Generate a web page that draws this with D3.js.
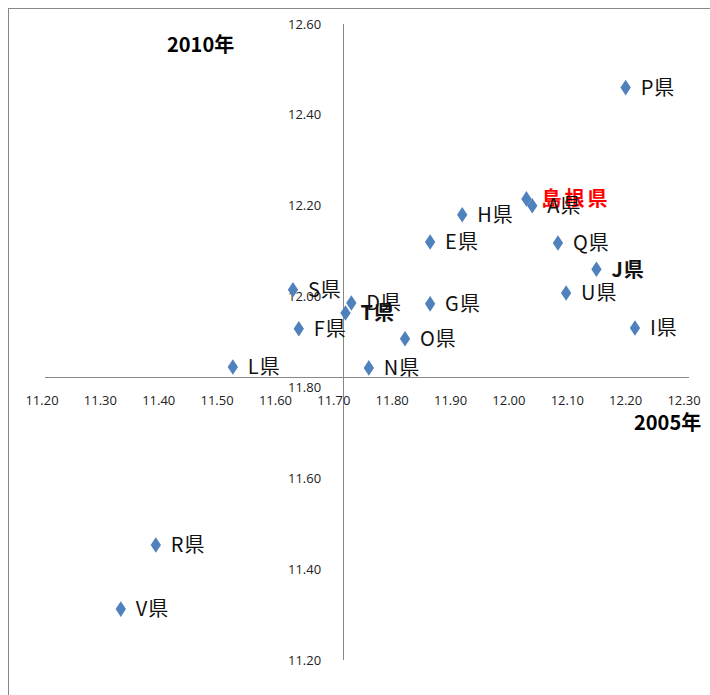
<!DOCTYPE html>
<html>
<head>
<meta charset="utf-8">
<script src="https://cdn.jsdelivr.net/npm/d3@7"></script>
<style>
  body { margin: 0; background: #fff; }
  .tick-label { font-family: "Liberation Sans Narrow", "Open Sans", sans-serif; font-size: 13px; fill: #222; }
  .pt-label { font-family: "Noto Sans CJK JP", sans-serif; font-size: 20px; fill: #111; }
  .axis-title { font-family: "Noto Sans CJK JP", sans-serif; font-size: 20px; font-weight: bold; fill: #000; }
</style>
</head>
<body>
<svg class="scatter"></svg>
<script>

// Prefecture names (labels of the points).
var names = ["P県", "島根県", "A県", "H県", "E県", "G県", "Q県", "J県", "U県", "I県",
             "S県", "D県", "T県", "F県", "O県", "N県", "L県", "R県", "V県"];

// 2005 values (x) and 2010 values (y).
var x2005 = [12.20, 12.03, 12.04, 11.92, 11.865, 11.865, 12.084, 12.15, 12.098, 12.216,
             11.63, 11.73, 11.72, 11.64, 11.822, 11.76, 11.527, 11.395, 11.335];
var y2010 = [12.46, 12.215, 12.20, 12.18, 12.12, 11.984, 12.118, 12.06, 12.008, 11.931,
             12.015, 11.986, 11.964, 11.929, 11.907, 11.843, 11.845, 11.453, 11.312];

// Labels drawn in bold.
var boldNames = ["J県", "T県"];

// Where the axes cross each other.
var crossX = 11.716,
    crossY = 11.823;

var xTicks = [11.2, 11.3, 11.4, 11.5, 11.6, 11.7, 11.8, 11.9, 12.0, 12.1, 12.2, 12.3];
var yTicks = [11.2, 11.4, 11.6, 11.8, 12.0, 12.2, 12.4, 12.6];

function drawScatter() {

  var width = 710, height = 695;

  var svg = d3.select(".scatter")
      .attr("width", width)
      .attr("height", height);

  // Outer frame (only the top and left edges are visible).
  svg.append("rect")
      .attr("x", 8.5).attr("y", 8.5)
      .attr("width", 720).attr("height", 720)
      .attr("fill", "none")
      .attr("stroke", "#888");

  x = d3.scaleLinear()
      .domain([11.2, 12.3])
      .range([42, 684]);

  y = d3.scaleLinear()
      .domain([11.2, 12.6])
      .range([660, 24]);

  drawAxes(svg);
  drawPoints(svg);
}

/*
* Draw the crossing axes with their tick labels and titles.
*/
function drawAxes(svg) {

  // Horizontal axis line.
  svg.append("line")
      .attr("x1", x(11.2) + 3).attr("x2", x(12.3) + 5)
      .attr("y1", Math.round(y(crossY)) + 0.5).attr("y2", Math.round(y(crossY)) + 0.5)
      .attr("stroke", "#888");

  // Vertical axis line.
  svg.append("line")
      .attr("x1", Math.round(x(crossX)) + 0.5).attr("x2", Math.round(x(crossX)) + 0.5)
      .attr("y1", y(12.6)).attr("y2", y(11.2))
      .attr("stroke", "#888");

  svg.selectAll(".xtick")
      .data(xTicks)
      .enter().append("text")
      .attr("class", "tick-label xtick")
      .attr("x", function(d) { return x(d); })
      .attr("y", y(crossY) + 28)
      .attr("text-anchor", "middle")
      .text(function(d) { return d3.format(".2f")(d); });

  svg.selectAll(".ytick")
      .data(yTicks)
      .enter().append("text")
      .attr("class", "tick-label ytick")
      .attr("x", x(crossX) - 22)
      .attr("y", function(d) { return y(d); })
      .attr("dy", "0.35em")
      .attr("text-anchor", "end")
      .text(function(d) { return d3.format(".2f")(d); });

  svg.append("text")
      .attr("class", "axis-title")
      .attr("x", 167).attr("y", 52)
      .text("2010年");

  svg.append("text")
      .attr("class", "axis-title")
      .attr("x", 634).attr("y", 430)
      .text("2005年");
}

/*
* Draw diamond markers and their labels.
*/
function drawPoints(svg) {

  var diamond = d3.symbol().type(d3.symbolDiamond).size(70);

  svg.selectAll(".pt")
      .data(names)
      .enter().append("path")
      .attr("class", "pt")
      .attr("d", diamond)
      .attr("transform", function(d, i) {
          return "translate(" + x(x2005[i]) + "," + y(y2010[i]) + ") scale(1.15,1)";
      })
      .attr("fill", "#4f81bd");

  svg.selectAll(".pt-label")
      .data(names)
      .enter().append("text")
      .attr("class", "pt-label")
      .attr("x", function(d, i) { return x(x2005[i]) + 15; })
      .attr("y", function(d, i) { return y(y2010[i]); })
      .attr("dy", "0.36em")
      .style("fill", function(d) { return d == "島根県" ? "#ff0000" : null; })
      .style("font-weight", function(d) {
          return (boldNames.indexOf(d) >= 0 || d == "島根県") ? "bold" : "normal";
      })
      .style("letter-spacing", function(d) { return d == "島根県" ? "3px" : "1px"; })
      .text(function(d) { return d; });

  // Shimane label sits behind the A label, so move it to the back.
  svg.selectAll(".pt-label").filter(function(d) { return d == "島根県"; }).lower();
}

drawScatter();
</script>
</body>
</html>
